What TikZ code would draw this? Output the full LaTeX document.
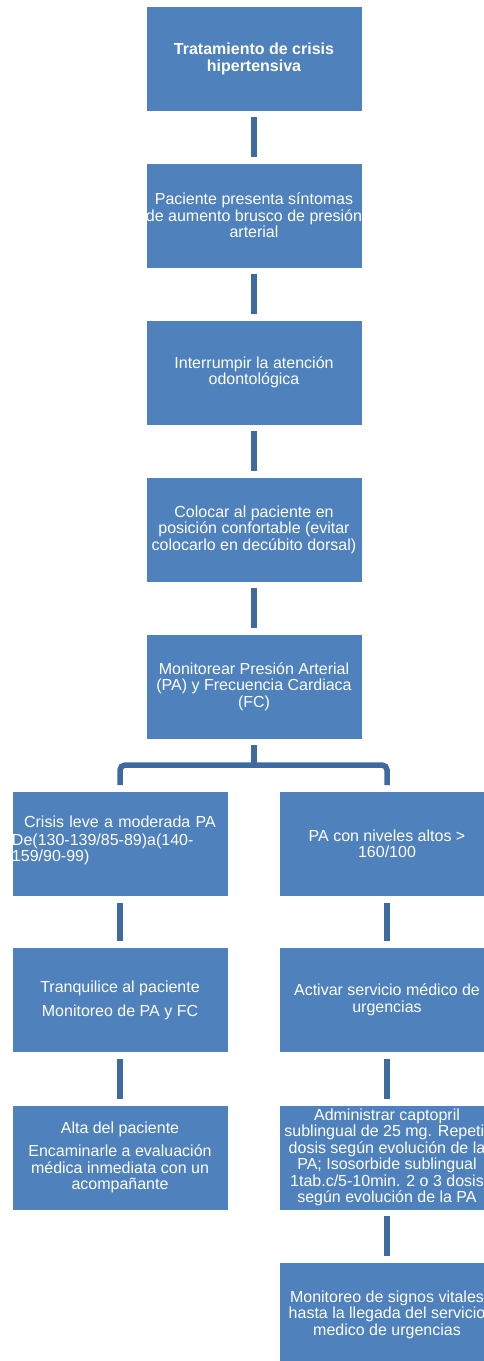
\documentclass[tikz,border=0pt]{standalone}
\usepackage{fontspec}
\setmainfont{Liberation Sans}
\definecolor{boxblue}{HTML}{4F81BD}
\definecolor{lineblue}{HTML}{3E6A9F}
\begin{document}
\begin{tikzpicture}[x=1pt,y=-1pt,
  box/.style={draw=white,line width=0.8pt,fill=boxblue,text=white,
    minimum width=216pt,minimum height=105pt,inner sep=0pt,align=center,
    font=\fontsize{16}{16.5}\selectfont},
  conn/.style={draw=lineblue,line width=5.5pt,line cap=butt,shorten >=6pt,shorten <=6pt}]
\useasboundingbox (0,0) rectangle (483,1361);
% main column
\node[box,font=\fontsize{16}{16.8}\selectfont\bfseries] (m1) at (254,58.5) {Tratamiento de crisis\\hipertensiva};
\node[box] (m2) at (254,215.5) {Paciente presenta síntomas\\de aumento brusco de presión\\arterial};
\node[box] (m3) at (254,372.5) {Interrumpir la atención\\odontológica};
\node[box] (m4) at (254,529.5) {Colocar al paciente en\\posición confortable (evitar\\colocarlo en decúbito dorsal)};
\node[box] (m5) at (254,686.5) {Monitorear Presión Arterial\\(PA) y Frecuencia Cardiaca\\(FC)};
% left column
\node[box,text width=216pt,align=left] (l1) at (120,844) {{\centering Crisis leve a moderada PA\par}\vspace{5pt}{\fontsize{16}{12.7}\selectfont\raggedright De(130-139/85-89)a(140-\\159/90-99)\par}\vspace{7pt}};
\node[box] (l2) at (120,1000) {Tranquilice al paciente\\[7.5pt]Monitoreo de PA y FC};
\node[box] (l3) at (120,1157.5) {Alta del paciente\\[6.5pt]Encaminarle a evaluación\\médica inmediata con un\\acompañante};
% right column
\node[box] (r1) at (387,844) {PA con niveles altos >\\160/100};
\node[box] (r2) at (387,1000) {Activar servicio médico de\\urgencias};
\node[box] (r3) at (387,1157.5) {Administrar captopril\\sublingual de 25 mg. Repetir\\dosis según evolución de la\\PA; Isosorbide sublingual\\1tab.c/5-10min. 2 o 3 dosis\\según evolución de la PA};
\node[box] (r4) at (387,1314.5) {Monitoreo de signos vitales\\hasta la llegada del servicio\\medico de urgencias};
% connectors
\draw[conn] (m1.south) -- (m2.north);
\draw[conn] (m2.south) -- (m3.north);
\draw[conn] (m3.south) -- (m4.north);
\draw[conn] (m4.south) -- (m5.north);
\coordinate (bj) at (254,765);
\draw[conn,shorten >=0pt] (m5.south) -- (bj);
\draw[conn,shorten <=0pt,rounded corners=5pt] (bj) -| (l1.north);
\draw[conn,shorten <=0pt,rounded corners=5pt] (bj) -| (r1.north);
\draw[conn] (l1.south) -- (l2.north);
\draw[conn] (l2.south) -- (l3.north);
\draw[conn] (r1.south) -- (r2.north);
\draw[conn] (r2.south) -- (r3.north);
\draw[conn] (r3.south) -- (r4.north);
\end{tikzpicture}
\end{document}
